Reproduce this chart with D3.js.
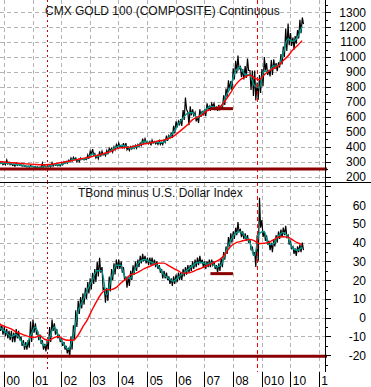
<!DOCTYPE html>
<html>
<head>
<meta charset="utf-8">
<script src="https://cdn.jsdelivr.net/npm/d3@7"></script>
<style>
  body { margin: 0; background: #fff; }
  svg { display: block; font-family: "Liberation Sans", Arial, sans-serif; }
</style>
</head>
<body>
<svg id="chart"></svg>
<script>
// monthly high / low, Oct 1999 .. Jun 2010
const goldHigh = [
  320, 300, 292,
  292, 312, 295, 290, 280, 290, 285, 280, 276, 272, 270, 275,
  270, 268, 265, 265, 290, 275, 270, 278, 293, 285, 280, 280,
  285, 300, 302, 310, 325, 330, 325, 315, 325, 320, 320, 345,
  370, 385, 355, 340, 370, 370, 355, 375, 390, 390, 400, 415,
  425, 410, 425, 425, 395, 400, 405, 410, 415, 425, 455, 455,
  430, 435, 445, 435, 430, 440, 430, 445, 475, 475, 495, 540,
  570, 570, 585, 645, 730, 630, 670, 650, 630, 600, 650, 640,
  650, 690, 670, 690, 690, 665, 680, 675, 745, 790, 845, 840,
  925, 975, 1010, 935, 920, 940, 990, 910, 910, 910, 830, 880,
  920, 1000, 960, 915, 980, 985, 960, 965, 1020, 1070, 1190, 1225,
  1160, 1130, 1140, 1180, 1250, 1265
];
const goldLow = [
  295, 288, 280,
  280, 285, 280, 275, 270, 275, 276, 270, 270, 265, 264, 268,
  263, 258, 257, 258, 262, 265, 265, 265, 270, 276, 272, 272,
  278, 290, 290, 300, 305, 315, 300, 300, 315, 312, 315, 320,
  350, 345, 325, 320, 335, 345, 340, 350, 375, 365, 380, 395,
  400, 395, 395, 380, 375, 385, 390, 390, 400, 410, 425, 430,
  420, 410, 425, 420, 415, 415, 415, 430, 440, 460, 460, 490,
  530, 550, 540, 580, 650, 545, 610, 610, 570, 560, 600, 610,
  605, 650, 640, 670, 650, 640, 650, 650, 680, 730, 780, 780,
  850, 890, 920, 865, 850, 860, 910, 780, 740, 710, 715, 760,
  805, 910, 880, 870, 880, 920, 905, 930, 950, 1000, 1040, 1080,
  1075, 1050, 1090, 1125, 1160, 1220
];
// every second month, Oct 1999 .. Jun 2010
const goldFast = [
  300, 290,
  292, 287, 281, 279, 272, 269,
  265, 261, 268, 270, 281, 278,
  288, 299, 316, 313, 316, 325,
  352, 335, 350, 355, 376, 398,
  408, 405, 390, 398, 412, 438,
  426, 430, 428, 430, 462, 495,
  550, 590, 625, 630, 592, 625,
  655, 670, 662, 664, 735, 800,
  905, 930, 885, 880, 810, 795,
  905, 905, 940, 940, 1020, 1120,
  1105, 1130, 1205
];
const goldSlow = [
  305, 300,
  296, 294, 292, 289, 286, 284,
  282, 280, 280, 282, 285, 292,
  297, 303, 309, 316, 322, 328,
  335, 343, 350, 360, 370, 386,
  393, 396, 398, 405, 413, 420,
  425, 432, 440, 445, 455, 470,
  495, 520, 547, 580, 598, 612,
  640, 652, 662, 672, 713, 760,
  812, 847, 865, 880, 860, 848,
  880, 905, 925, 940, 975, 1005,
  1047, 1075, 1110
];

const spreadHigh = [
  -2, -3, -4,
  -5, -6, -7, -7, -8, -6, -7, -10, -12, -13, -12, -2,
  -1, -3, -7, -9, -12, -14, -12, -5, -1, -3, -6, -9,
  -11, -13, -15, -16, -10, -4, 4, 9, 11, 13, 16, 19,
  21, 24, 26, 30, 32, 27, 16, 16, 22, 26, 29, 31,
  31, 30, 27, 22, 22, 25, 28, 30, 31, 33, 34, 33,
  32, 32, 32, 31, 30, 28, 26, 25, 24, 22, 21, 22,
  23, 24, 24, 26, 27, 28, 28, 30, 31, 32, 33, 31,
  30, 30, 31, 31, 30, 28, 29, 32, 35, 38, 43, 45,
  46, 48, 51, 47, 46, 45, 44, 42, 38, 35, 44, 64,
  52, 46, 44, 41, 40, 42, 44, 46, 47, 48, 49, 44,
  41, 38, 37, 38, 39, 40
];
const spreadLow = [
  -6, -7, -9,
  -10, -11, -12, -13, -13, -11, -12, -15, -17, -17, -16, -13,
  -8, -9, -12, -14, -17, -18, -17, -13, -7, -9, -11, -13,
  -15, -17, -19, -21, -17, -12, -5, 2, 5, 7, 10, 13,
  15, 18, 19, 22, 24, 15, 8, 9, 14, 20, 23, 26,
  26, 24, 20, 16, 17, 20, 23, 25, 27, 29, 30, 29,
  28, 28, 28, 27, 26, 24, 21, 21, 20, 18, 17, 18,
  19, 20, 20, 22, 23, 24, 25, 26, 27, 28, 29, 27,
  26, 27, 27, 28, 26, 24, 25, 27, 31, 34, 38, 40,
  42, 44, 46, 43, 42, 41, 40, 36, 33, 27, 30, 48,
  43, 41, 39, 36, 35, 38, 40, 42, 43, 44, 43, 39,
  37, 34, 33, 35, 35, 36
];
const spreadFast = [
  -4, -6,
  -8, -10, -9, -12, -15, -10,
  -5, -11, -15, -11, -5, -10,
  -14, -17, -10, 3, 9, 15,
  20, 25, 25, 12, 21, 28,
  28, 21, 21, 26, 30, 31,
  30, 29, 27, 23, 21, 19.5,
  21.5, 23.5, 25.5, 27.5, 29.5, 29.5,
  28.5, 29.5, 27, 28, 35, 41,
  45, 46, 43.5, 40.5, 33, 45,
  46, 39, 39.5, 43.5, 45.5, 43,
  37, 36, 37.5
];
const spreadSlow = [
  -2, -4,
  -5, -6, -7.5, -8.5, -9.5, -10.3,
  -10.5, -9.5, -11.5, -12, -10.6, -10,
  -11.5, -12, -12, -9.5, -5, -1,
  4.4, 9, 13, 15, 15, 16,
  18.5, 20.5, 22.9, 23.5, 24.8, 26.3,
  27.3, 28.5, 29.1, 29.1, 27.8, 26.3,
  25, 23.8, 23.8, 24.5, 25.6, 26.6,
  27.7, 28.8, 30, 31.5, 34.4, 38,
  39.8, 40.6, 41.3, 41.8, 41, 39.5,
  39.7, 40.2, 41.5, 43, 43.2, 43,
  41.5, 40, 39
];

const yearTicks = d3.range(2000, 2012);
const yearLabels = ["00", "01", "02", "03", "04", "05", "06", "07", "08", "010", "10", "1"];
const markerDates = ["2001-06-28", "2008-11-03"];
const goldLevel = 251, spreadLevel = -20.5;
const goldShelf = 655, spreadShelf = 23.5;
const shelfDates = ["2007-03-20", "2008-01-01"];

const width = 371, height = 387;
const axisX = 325;
const parse = d3.timeParse("%Y-%m-%d");

const months = d3.timeMonth.range(new Date(1999, 9, 1), new Date(2010, 6, 1));
const maMonths = d3.timeMonth.range(new Date(1999, 9, 1), new Date(2010, 6, 2), 2);

const svg = d3.select("#chart")
  .attr("width", width)
  .attr("height", height);

const x = d3.scaleTime()
  .domain([new Date(2000, 0, 1), new Date(2011, 0, 1)])
  .range([4, 318.8]);

const panels = [
  {
    top: 0, bottom: 182,
    y: d3.scaleLinear().domain([200, 1300]).range([176.7, 12.2]),
    grid: d3.range(200, 1301, 100),
    major: d3.range(200, 1301, 100),
    minor: d3.range(250, 1351, 100),
    labels: d3.range(200, 1301, 100),
    high: goldHigh, low: goldLow, fast: goldFast, slow: goldSlow,
    level: goldLevel, shelf: goldShelf,
    title: "CMX GOLD 100 (COMPOSITE) Continuous", titleX: 45, titleY: 15
  },
  {
    top: 182, bottom: 372,
    y: d3.scaleLinear().domain([-20, 60]).range([355.2, 205.2]),
    grid: d3.range(-20, 71, 10),
    major: d3.range(-20, 71, 10),
    minor: d3.range(-25, 70, 10),
    labels: d3.range(-20, 61, 10),
    high: spreadHigh, low: spreadLow, fast: spreadFast, slow: spreadSlow,
    level: spreadLevel, shelf: spreadShelf,
    title: "TBond minus U.S. Dollar Index", titleX: 78, titleY: 197
  }
];

// vertical grid
svg.append("g")
  .selectAll("line")
  .data(yearTicks)
  .join("line")
  .attr("x1", d => Math.round(x(new Date(d, 0, 1))) + 0.5)
  .attr("x2", d => Math.round(x(new Date(d, 0, 1))) + 0.5)
  .attr("y1", 0)
  .attr("y2", 372)
  .attr("stroke", "#b4b4b4")
  .attr("stroke-dasharray", "4,3");

panels.forEach((p, i) => {
  const clipId = "clip" + i;
  svg.append("clipPath").attr("id", clipId)
    .append("rect")
    .attr("x", 0).attr("y", p.top)
    .attr("width", axisX).attr("height", p.bottom - p.top);

  const g = svg.append("g").attr("clip-path", `url(#${clipId})`);

  g.append("g")
    .selectAll("line")
    .data(p.grid)
    .join("line")
    .attr("x1", 0)
    .attr("x2", axisX)
    .attr("y1", d => Math.round(p.y(d)) + 0.5)
    .attr("y2", d => Math.round(p.y(d)) + 0.5)
    .attr("stroke", "#b4b4b4")
    .attr("stroke-dasharray", "4,3");

  // price as monthly high/low zigzag
  const pts = [];
  months.forEach((m, k) => {
    pts.push([d3.timeDay.offset(m, 4), p.high[k]]);
    pts.push([d3.timeDay.offset(m, 18), p.low[k]]);
  });
  g.append("path")
    .datum(pts)
    .attr("fill", "none")
    .attr("stroke", "#000")
    .attr("stroke-width", 1.2)
    .attr("d", d3.line().x(d => x(d[0])).y(d => p.y(d[1])));

  const maLine = d3.line()
    .x((d, k) => x(maMonths[k]))
    .y(d => p.y(d))
    .curve(d3.curveMonotoneX);

  g.append("path")
    .datum(p.fast)
    .attr("fill", "none")
    .attr("stroke", "#00968a")
    .attr("stroke-width", 1.5)
    .attr("d", maLine);

  g.append("path")
    .datum(p.slow)
    .attr("fill", "none")
    .attr("stroke", "#ff0000")
    .attr("stroke-width", 1.4)
    .attr("d", maLine);

  // event markers, drawn over the series
  g.selectAll("line.marker")
    .data(markerDates)
    .join("line")
    .attr("class", "marker")
    .attr("x1", d => Math.round(x(parse(d))) + 0.5)
    .attr("x2", d => Math.round(x(parse(d))) + 0.5)
    .attr("y1", p.top)
    .attr("y2", p.bottom)
    .attr("stroke", (d, j) => j === 0 ? "#cc0000" : "#ff0000")
    .attr("stroke-width", 1.2)
    .attr("shape-rendering", "crispEdges")
    .attr("stroke-dasharray", (d, j) => j === 0 ? "2,3" : "4,3");

  g.append("line")
    .attr("x1", x(parse(shelfDates[0])))
    .attr("x2", x(parse(shelfDates[1])))
    .attr("y1", p.y(p.shelf))
    .attr("y2", p.y(p.shelf))
    .attr("stroke", "#8b0000")
    .attr("stroke-width", 3);

  svg.append("line")
    .attr("x1", 0)
    .attr("x2", axisX + 2)
    .attr("y1", p.y(p.level))
    .attr("y2", p.y(p.level))
    .attr("stroke", "#8b0000")
    .attr("stroke-width", 3);

  svg.append("text")
    .attr("x", p.titleX)
    .attr("y", p.titleY)
    .attr("font-size", "12px")
    .attr("fill", "#111")
    .text(p.title);

  // right axis
  const ax = svg.append("g").attr("transform", `translate(${axisX},0)`);
  ax.call(d3.axisRight(p.y).tickValues(p.major).tickSize(6).tickFormat(""))
    .call(a => a.select(".domain").remove());
  ax.append("g")
    .call(d3.axisRight(p.y).tickValues(p.minor).tickSize(3).tickFormat(""))
    .call(a => a.select(".domain").remove());
  ax.selectAll("line").attr("stroke", "#000").attr("shape-rendering", "crispEdges");

  ax.selectAll("text.lbl")
    .data(p.labels)
    .join("text")
    .attr("class", "lbl")
    .attr("x", 41)
    .attr("y", d => p.y(d))
    .attr("dy", "0.36em")
    .attr("text-anchor", "end")
    .attr("font-size", "12px")
    .attr("fill", "#000")
    .text(d => d);
});

// panel divider and axis line
svg.append("line")
  .attr("x1", 0).attr("x2", width)
  .attr("y1", 182.5).attr("y2", 182.5)
  .attr("stroke", "#000");
svg.append("line")
  .attr("x1", axisX + 0.5).attr("x2", axisX + 0.5)
  .attr("y1", 0).attr("y2", 372)
  .attr("stroke", "#000");

// time axis
const xt = svg.append("g");
xt.selectAll("line")
  .data(yearTicks)
  .join("line")
  .attr("x1", d => Math.round(x(new Date(d, 0, 1))) + 0.5)
  .attr("x2", d => Math.round(x(new Date(d, 0, 1))) + 0.5)
  .attr("y1", 372)
  .attr("y2", 387)
  .attr("stroke", "#000");
xt.selectAll("text")
  .data(yearTicks)
  .join("text")
  .attr("x", d => x(new Date(d, 0, 1)) + 2.5)
  .attr("y", 385)
  .attr("font-size", "12px")
  .attr("fill", "#000")
  .text((d, i) => yearLabels[i]);
</script>
</body>
</html>
